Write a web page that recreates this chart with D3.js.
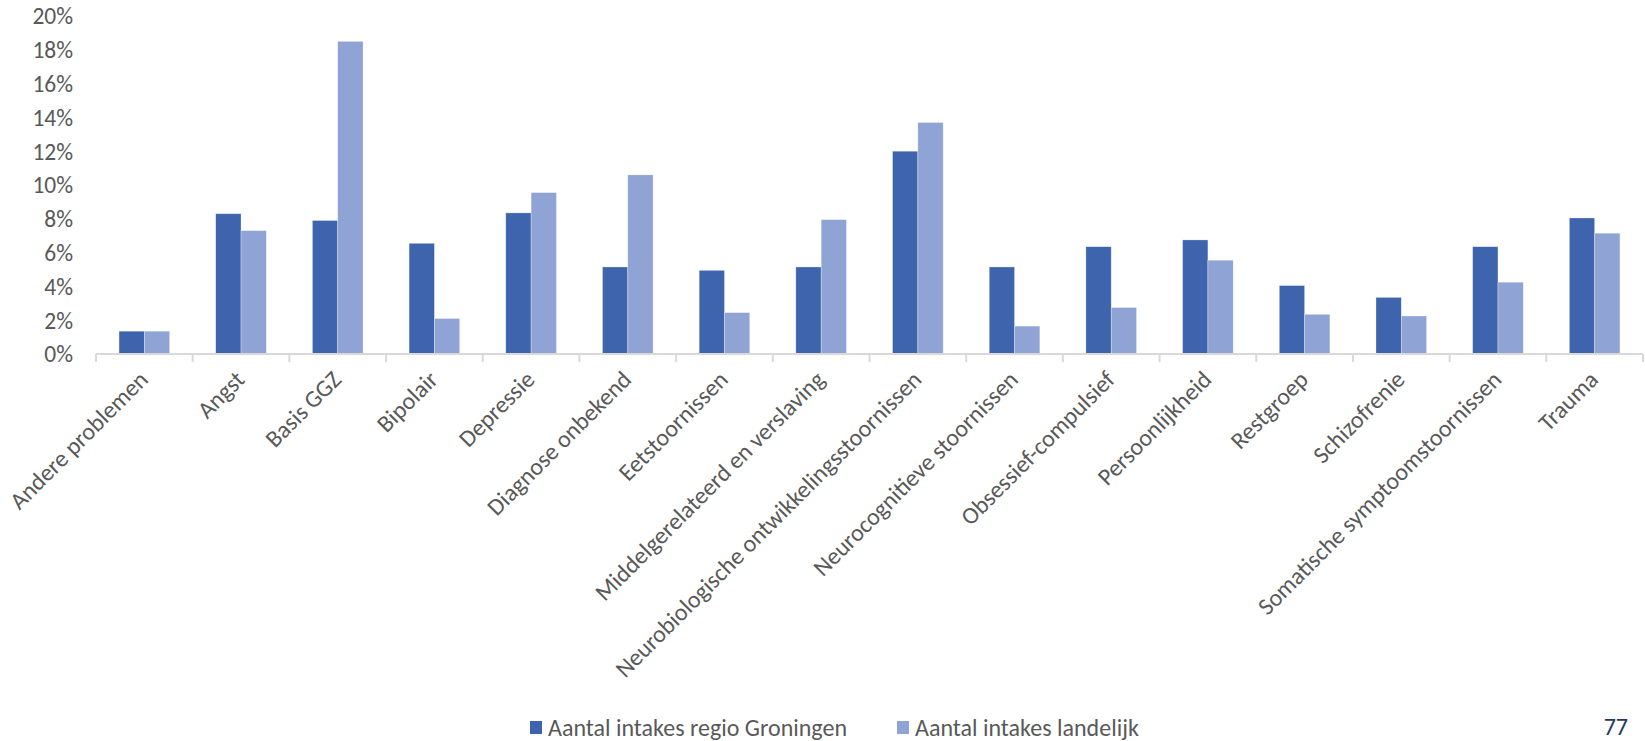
<!DOCTYPE html>
<html>
<head>
<meta charset="utf-8">
<script src="https://cdn.jsdelivr.net/npm/d3@7"></script>
<style>
  html, body { margin: 0; padding: 0; background: #fff; }
  svg { display: block; font-family: Carlito, Calibri, Lato, sans-serif; }
</style>
</head>
<body>
<svg id="chart" width="1645" height="741"></svg>
<script>
// categories (x axis)
var categories = [
    "Andere problemen", "Angst", "Basis GGZ", "Bipolair", "Depressie",
    "Diagnose onbekend", "Eetstoornissen", "Middelgerelateerd en verslaving",
    "Neurobiologische ontwikkelingsstoornissen", "Neurocognitieve stoornissen",
    "Obsessief-compulsief", "Persoonlijkheid", "Restgroep", "Schizofrenie",
    "Somatische symptoomstoornissen", "Trauma"
];

// series names
var seriesNames = ["Aantal intakes regio Groningen", "Aantal intakes landelijk"];

// values in percent
var regioGroningen = [1.35, 8.3, 7.9, 6.55, 8.35, 5.15, 4.95, 5.15, 12.0, 5.15, 6.35, 6.75, 4.05, 3.35, 6.35, 8.05];
var landelijk = [1.35, 7.3, 18.5, 2.1, 9.55, 10.6, 2.45, 7.95, 13.7, 1.65, 2.75, 5.55, 2.35, 2.25, 4.25, 7.15];

// y axis ticks
var yTicks = [0, 2, 4, 6, 8, 10, 12, 14, 16, 18, 20];

var pageNumber = "77";

var colors = ["#3D64AD", "#8FA4D4"];

var svg = d3.select("#chart");

// scales
var x = d3.scaleBand()
    .domain(categories)
    .range([96, 1643])
    .padding(0);

var x1 = d3.scaleBand()
    .domain(seriesNames)
    .range([0, x.bandwidth()])
    .paddingInner(0)
    .paddingOuter(0.91);

var y = d3.scaleLinear()
    .domain([0, 20])
    .range([354, 16]);

// y tick labels (no gridlines in the original)
svg.append("g")
    .selectAll("text")
    .data(yTicks)
    .enter()
    .append("text")
    .attr("x", 73)
    .attr("y", function(d){ return y(d); })
    .attr("dy", "0.36em")
    .attr("text-anchor", "end")
    .style("font-size", "23.5px")
    .style("fill", "#595959")
    .text(function(d){ return d + "%"; });

// bars
var rows = categories.map(function(c, i){
    return {cat: c, vals: [regioGroningen[i], landelijk[i]]};
});

var groups = svg.append("g")
    .selectAll("g")
    .data(rows)
    .enter()
    .append("g")
    .attr("transform", function(d){ return "translate(" + x(d.cat) + ",0)"; });

groups.selectAll("rect")
    .data(function(d){
        return d.vals.map(function(v, j){ return {name: seriesNames[j], v: v, j: j}; });
    })
    .enter()
    .append("rect")
    .attr("x", function(d){ return x1(d.name); })
    .attr("width", x1.bandwidth())
    .attr("y", function(d){ return y(d.v); })
    .attr("height", function(d){ return y(0) - y(d.v); })
    .attr("fill", function(d){ return colors[d.j]; })
    .style("stroke", "#ffffff")
    .style("stroke-width", 0.6)
    .style("stroke-opacity", 0.5);

// x axis line and ticks at band edges
var axisG = svg.append("g");
axisG.append("line")
    .attr("x1", x.range()[0])
    .attr("x2", x.range()[1])
    .attr("y1", y(0))
    .attr("y2", y(0))
    .style("stroke", "#D9D9D9")
    .style("stroke-width", 2);

var tickPos = categories.map(function(c){ return x(c); }).concat([x.range()[1]]);
axisG.selectAll(".tick")
    .data(tickPos)
    .enter()
    .append("line")
    .attr("class", "tick")
    .attr("x1", function(d){ return d; })
    .attr("x2", function(d){ return d; })
    .attr("y1", y(0))
    .attr("y2", y(0) + 8)
    .style("stroke", "#D9D9D9")
    .style("stroke-width", 2);

// rotated category labels
svg.append("g")
    .selectAll("text")
    .data(categories)
    .enter()
    .append("text")
    .attr("transform", function(d){
        var cx = x(d) + x.bandwidth() / 2;
        return "translate(" + (cx + 5) + "," + (y(0) + 27) + ") rotate(-45)";
    })
    .attr("text-anchor", "end")
    .style("font-size", "24px")
    .style("fill", "#595959")
    .text(function(d){ return d; });

// legend
var legendX = [530, 897];
var legend = svg.append("g")
    .selectAll("g")
    .data(seriesNames)
    .enter()
    .append("g")
    .attr("transform", function(d, i){ return "translate(" + legendX[i] + ",0)"; });

legend.append("rect")
    .attr("x", 0)
    .attr("y", 721)
    .attr("width", 12)
    .attr("height", 13)
    .attr("fill", function(d, i){ return colors[i]; });

legend.append("text")
    .attr("x", 18)
    .attr("y", 736)
    .style("font-size", "24px")
    .style("fill", "#595959")
    .text(function(d){ return d; });

// page number
svg.append("text")
    .attr("x", 1628)
    .attr("y", 735)
    .attr("text-anchor", "end")
    .style("font-size", "24px")
    .style("fill", "#1F3864")
    .text(pageNumber);
</script>
</body>
</html>
